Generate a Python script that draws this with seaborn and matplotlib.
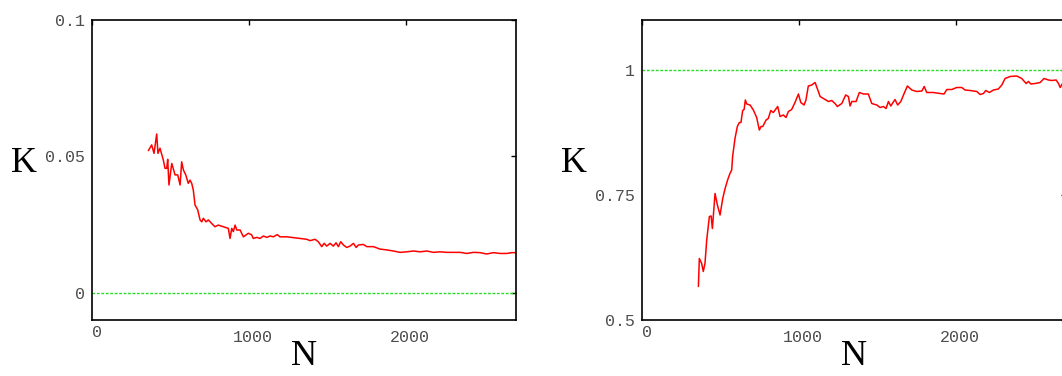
import numpy as np
import pandas as pd
import matplotlib
matplotlib.use("Agg")
import matplotlib.pyplot as plt
import matplotlib.transforms as mtrans
import seaborn as sns

# === Data ===
left_n = [359, 380, 395, 412, 420, 433, 454, 465, 476, 482, 490, 508, 529, 546, 561,
          571, 582, 597, 613, 624, 635, 645, 656, 673, 688, 699, 709, 726, 741, 762,
          783, 804, 836, 868, 879, 890, 900, 911, 922, 943, 964, 996, 1017, 1027, 1049,
          1070, 1091, 1113, 1134, 1155, 1180, 1197, 1240, 1282, 1325, 1367, 1389, 1420,
          1441, 1463, 1478, 1495, 1516, 1537, 1554, 1569, 1584, 1601, 1622, 1643, 1665,
          1682, 1696, 1728, 1750, 1792, 1834, 1877, 1919, 1962, 2004, 2047, 2089, 2132,
          2174, 2217, 2259, 2301, 2344, 2387, 2429, 2471, 2514, 2556, 2599, 2641, 2673, 2700]
left_k = [0.0521, 0.0542, 0.0511, 0.0582, 0.0511, 0.0530, 0.0487, 0.0456, 0.0456, 0.0489,
          0.0395, 0.0474, 0.0432, 0.0432, 0.0395, 0.0480, 0.0450, 0.0432, 0.0401, 0.0413,
          0.0401, 0.0377, 0.0322, 0.0304, 0.0267, 0.0260, 0.0273, 0.0260, 0.0267, 0.0254,
          0.0242, 0.0248, 0.0242, 0.0236, 0.0199, 0.0236, 0.0224, 0.0248, 0.0230, 0.0230,
          0.0205, 0.0218, 0.0212, 0.0199, 0.0203, 0.0199, 0.0208, 0.0203, 0.0208, 0.0205,
          0.0213, 0.0205, 0.0205, 0.0202, 0.0199, 0.0196, 0.0191, 0.0196, 0.0187, 0.0169,
          0.0181, 0.0171, 0.0181, 0.0171, 0.0183, 0.0169, 0.0187, 0.0175, 0.0166, 0.0171,
          0.0181, 0.0166, 0.0175, 0.0177, 0.0169, 0.0169, 0.0160, 0.0157, 0.0153, 0.0148,
          0.0150, 0.0153, 0.0150, 0.0153, 0.0148, 0.0150, 0.0148, 0.0148, 0.0148, 0.0144,
          0.0148, 0.0147, 0.0142, 0.0147, 0.0144, 0.0144, 0.0147, 0.0147]

right_n = [361, 367, 382, 392, 403, 414, 431, 442, 450, 467, 482, 499, 516, 531, 547,
           562, 573, 579, 594, 609, 622, 632, 643, 652, 660, 669, 690, 711, 732, 749,
           760, 771, 792, 806, 822, 838, 866, 881, 902, 919, 934, 955, 976, 998, 1013,
           1034, 1046, 1061, 1083, 1104, 1125, 1136, 1157, 1189, 1210, 1231, 1246, 1274,
           1299, 1316, 1327, 1338, 1365, 1386, 1412, 1443, 1465, 1497, 1518, 1539, 1556,
           1571, 1586, 1613, 1630, 1650, 1671, 1692, 1720, 1752, 1784, 1799, 1815, 1857,
           1900, 1925, 1943, 1975, 2006, 2038, 2059, 2091, 2134, 2155, 2176, 2191, 2214,
           2240, 2271, 2293, 2314, 2346, 2388, 2420, 2448, 2463, 2478, 2505, 2537, 2562,
           2590, 2611, 2639, 2654, 2665, 2677, 2700]
right_k = [0.567, 0.623, 0.613, 0.597, 0.613, 0.660, 0.707, 0.708, 0.683, 0.753, 0.730,
           0.710, 0.743, 0.763, 0.780, 0.793, 0.800, 0.827, 0.863, 0.887, 0.895, 0.895,
           0.919, 0.921, 0.940, 0.932, 0.930, 0.920, 0.905, 0.880, 0.887, 0.887, 0.900,
           0.903, 0.919, 0.915, 0.927, 0.907, 0.910, 0.905, 0.917, 0.921, 0.935, 0.952,
           0.935, 0.930, 0.940, 0.968, 0.970, 0.975, 0.957, 0.947, 0.943, 0.937, 0.939,
           0.933, 0.927, 0.933, 0.950, 0.947, 0.928, 0.937, 0.937, 0.955, 0.952, 0.952,
           0.933, 0.930, 0.925, 0.927, 0.923, 0.937, 0.928, 0.941, 0.930, 0.937, 0.953,
           0.968, 0.960, 0.957, 0.958, 0.967, 0.955, 0.955, 0.953, 0.952, 0.961, 0.961,
           0.965, 0.965, 0.960, 0.959, 0.957, 0.951, 0.953, 0.959, 0.955, 0.960, 0.962,
           0.970, 0.983, 0.987, 0.988, 0.983, 0.973, 0.977, 0.972, 0.973, 0.975, 0.983,
           0.980, 0.979, 0.980, 0.973, 0.965, 0.972, 0.970]

left_ref = 0.0
right_ref = 1.0
x_ticks = [0, 1000, 2000]
left_yticks = [0, 0.05, 0.1]
left_ylabels = ["0", "0.05", "0.1"]
right_yticks = [0.5, 0.75, 1.0]
right_ylabels = ["0.5", "0.75", "1"]

# === Style ===
sns.set_style("white")
plt.rcParams["font.family"] = ["Liberation Mono", "DejaVu Sans Mono"]

W, H = 1062, 376
fig = plt.figure(figsize=(W / 100, H / 100), dpi=100)

ax_w = 424 / W
ax_h = 300 / H
ax_b = 1 - 320 / H
ax_left = fig.add_axes([92 / W, ax_b, ax_w, ax_h])
ax_right = fig.add_axes([641.7 / W, ax_b, ax_w, ax_h])

panels = [
    (ax_left, left_n, left_k, left_ref, (-0.01, 0.1), left_yticks, left_ylabels),
    (ax_right, right_n, right_k, right_ref, (0.5, 1.1), right_yticks, right_ylabels),
]

for ax, n, k, ref, ylim, yt, ytl in panels:
    df = pd.DataFrame({"N": n, "K": k})
    ax.axhline(ref, color="#22dd22", lw=1.0, dashes=(2, 1.2), zorder=1)
    sns.lineplot(data=df, x="N", y="K", ax=ax, color="red", lw=1.1, zorder=2)
    ax.set_xlim(0, 2700)
    ax.set_ylim(*ylim)
    ax.set_xticks(x_ticks)
    ax.set_xticklabels([str(t) for t in x_ticks])
    ax.set_yticks(yt)
    ax.set_yticklabels(ytl)
    ax.tick_params(direction="in", length=3.5, width=1, color="black",
                   top=True, right=True, labelsize=12, labelcolor="#4d4d4d")
    ax.tick_params(axis="y", pad=5)
    ax.tick_params(axis="x", pad=7.5)
    for s in ax.spines.values():
        s.set_visible(True)
        s.set_color("black")
        s.set_linewidth(1.2)
    ax.set_xlabel("N", family="Liberation Serif", fontsize=26, color="black",
                  va="center")
    ax.set_ylabel("K", family="Liberation Serif", fontsize=26, color="black",
                  rotation=0, va="center", ha="center")
    ax.xaxis.set_label_coords(0.5, -0.123)
    ax.yaxis.set_label_coords(-0.16, 0.52)

fig.canvas.draw()
for ax in (ax_left, ax_right):
    for i, lab in enumerate(ax.get_xticklabels()):
        if i == 0:
            off = mtrans.ScaledTranslation(5 / 100, 5 / 100, fig.dpi_scale_trans)
        else:
            off = mtrans.ScaledTranslation(4 / 100, 0, fig.dpi_scale_trans)
        lab.set_transform(lab.get_transform() + off)

fig.savefig("out.png", dpi=100)
